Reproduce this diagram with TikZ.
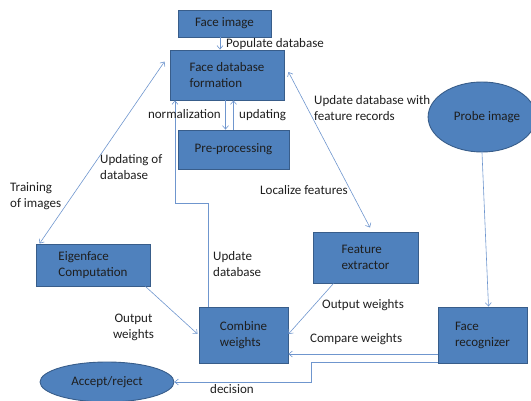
\documentclass[tikz,border=0pt]{standalone}
\usepackage{fontspec}
\setmainfont{Carlito}
\usetikzlibrary{arrows.meta,shapes.geometric,calc}
\definecolor{boxfill}{HTML}{4F81BD}
\definecolor{boxline}{HTML}{385D8A}
\definecolor{connc}{HTML}{6F96CE}
\definecolor{txt}{HTML}{1E1E1E}
\begin{document}
\begin{tikzpicture}[x=1pt,y=-1pt,
  every node/.style={font=\fontsize{13}{16}\selectfont, text=txt},
  box/.style={draw=boxline, fill=boxfill, line width=0.9pt, align=left, inner sep=0pt},
  oval/.style={ellipse, draw=boxline, fill=boxfill, line width=0.9pt, inner sep=0pt},
  lbl/.style={inner sep=0pt, align=left},
  conn/.style={draw=connc, line width=0.6pt, -{Straight Barb[length=3.5pt,width=6pt]}},
  conn2/.style={draw=connc, line width=0.6pt, {Straight Barb[length=3.5pt,width=6pt]}-{Straight Barb[length=3.5pt,width=6pt]}}]
\useasboundingbox (0,0) rectangle (531,401);
% boxes
\node[box, minimum width=93pt, minimum height=27pt] (faceimg) at (224.5,23.5) {Face image};
\node[box, minimum width=114pt, minimum height=50pt] (db) at (227,75) {Face database\\formation};
\node[box, minimum width=111pt, minimum height=39pt] (pre) at (233.5,149.5) {Pre-processing};
\node[box, minimum width=114pt, minimum height=42pt] (eigen) at (93,265) {Eigenface\\Computation\hspace{10pt}};
\node[box, minimum width=105pt, minimum height=51pt] (feat) at (365.5,257.5) {Feature\\extractor\hspace{10pt}};
\node[box, minimum width=89pt, minimum height=56pt] (comb) at (243.5,335) {Combine\\weights};
\node[box, minimum width=89pt, minimum height=56pt] (recog) at (482.5,335) {Face\\recognizer};
\node[oval, minimum width=100pt, minimum height=70pt] (probe) at (482,117) {\hspace{10pt}Probe image};
\node[oval, minimum width=134pt, minimum height=40pt] (accept) at (107,382) {Accept/reject};
% helper coordinates
\coordinate (cx) at (208,203);
\coordinate (cy) at (175,203);
\coordinate (d1) at (311,362);
% connectors
\draw[conn] ([xshift=-4.5pt]faceimg.south) -- ([xshift=-4.5pt]faceimg.south |- db.north);
\draw[conn] ([xshift=-8pt]pre.north |- db.south) -- ([xshift=-8pt]pre.north);
\draw[conn] (pre.north) -- (pre.north |- db.south);
\draw[conn2] ([xshift=4pt]eigen.north west) -- ([xshift=-5pt,yshift=-12pt]db.north west);
\draw[conn] (cx |- comb.north) -- (cx) -- (cy) -- (cy |- db.south);
\draw[conn2] ([xshift=4pt,yshift=3pt]db.east) -- ([xshift=4.5pt,yshift=4pt]feat.north);
\draw[conn] ([xshift=-5pt]eigen.south east) -- ([xshift=-1pt,yshift=1pt]comb.west);
\draw[conn] ([xshift=-32pt]feat.south) -- ([yshift=1pt]comb.east);
\draw[conn] (probe.south) -- ([xshift=6pt]recog.north);
\draw[conn] ([yshift=-19pt]recog.west) -- ([yshift=-19pt]comb.east);
\draw[conn] ([yshift=-27pt]recog.west) -- (d1) -- (d1 |- accept.east) -- (accept.east);
% labels
\node[lbl, anchor=mid west] (l1) at (226,45) {Populate database};
\node[lbl, anchor=mid east] (l2) at (221,116) {normalization};
\node[lbl, anchor=mid west] (l3) at (239,116) {updating};
\node[lbl, anchor=west] (l4) at (314,108) {Update database with\\feature records};
\node[lbl, anchor=west] (l5) at (100,167) {Updating of\\database};
\node[lbl, anchor=west] (l6) at (10,196) {Training\\of images};
\node[lbl, anchor=mid west] (l7) at (260,192) {Localize features};
\node[lbl, anchor=west] (l8) at (213,264) {Update\\database};
\node[lbl, anchor=mid west] (l9) at (322,306) {Output weights};
\node[lbl, align=center] (l10) at (133.5,327) {Output\\weights};
\node[lbl, anchor=mid west] (l11) at (310,340) {Compare weights};
\node[lbl, anchor=mid west] (l12) at (210,391) {decision};
\end{tikzpicture}
\end{document}
